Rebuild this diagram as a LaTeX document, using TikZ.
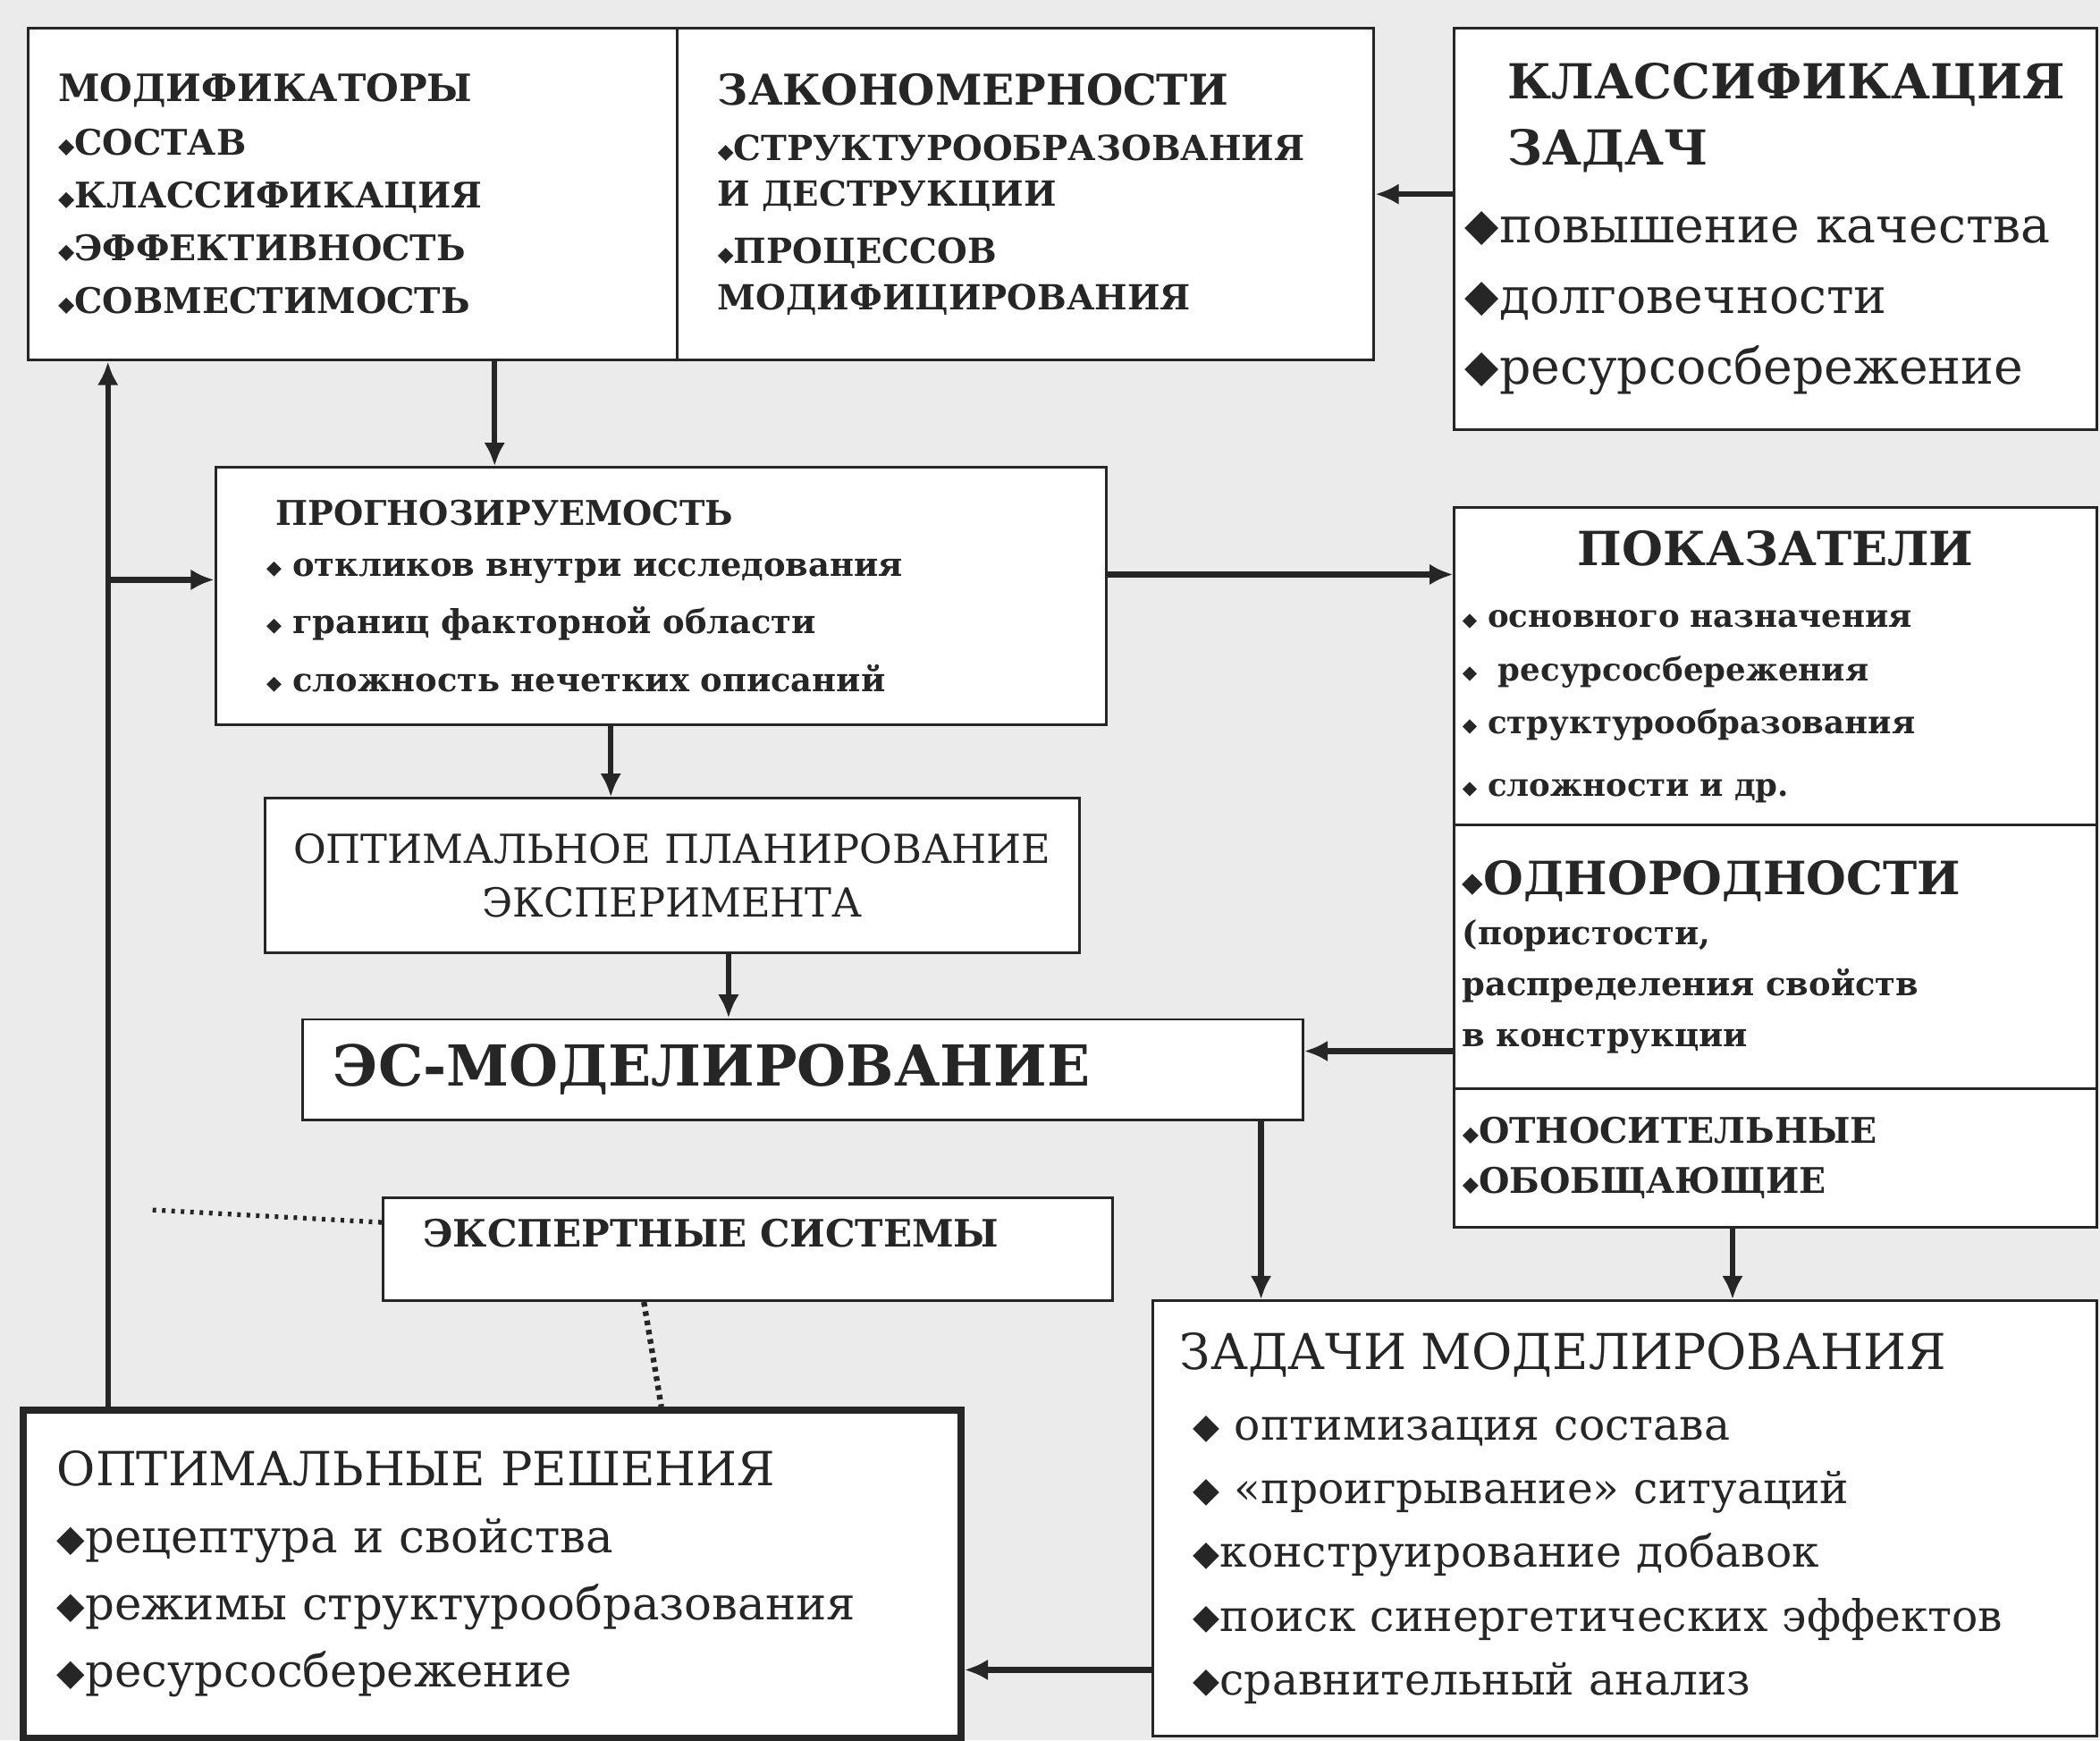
\documentclass[tikz,border=0pt]{standalone}
\usepackage{fontspec}
\setmainfont{DejaVu Serif}
\newfontfamily\symfont{DejaVu Sans}
\usetikzlibrary{calc}
\usetikzlibrary{arrows.meta}
\usetikzlibrary{positioning}
\definecolor{ink}{gray}{0.15}
\definecolor{paper}{gray}{0.92}
\newcommand{\dia}[1][0.6]{\raisebox{0.1ex}{\scalebox{#1}{\symfont ◆}}}
\newcommand{\fs}[2]{\fontsize{#1}{#2}\selectfont}
\tikzset{
  box/.style={draw=ink, line width=1.1pt, fill=white, anchor=north west, align=left, inner ysep=0pt, text=ink},
  flow/.style={draw=ink, line width=2.4pt, -{Latex[length=10pt,width=9pt]}},
  dots/.style={draw=ink, line width=2pt, dash pattern=on 1.5pt off 2.5pt},
  hatch/.style={draw=ink, line width=2.4pt, dash pattern=on 2pt off 2pt},
}
\begin{document}
\begin{tikzpicture}[x=0.02cm, y=-0.02cm]
% fond
\fill[paper] (0,0) rectangle (1568,1299);
\useasboundingbox (0,0) rectangle (1568,1299);
% blocs du haut
\node[box, minimum width=9.7cm, minimum height=4.96cm, inner xsep=0.45cm, text width=8.8cm,
  font=\bfseries\fs{15}{22.5}] (modif) at (20,20)
  {{\fs{16}{22.5}МОДИФИКАТОРЫ}\\ \dia СОСТАВ\\ \dia КЛАССИФИКАЦИЯ\\ \dia ЭФФЕКТИВНОСТЬ\\ \dia СОВМЕСТИМОСТЬ};
\node[box, minimum width=10.4cm, minimum height=4.96cm, inner xsep=0.6cm, text width=9.2cm,
  font=\bfseries\fs{14.7}{19.5}] (zakon) at (505,20)
  {{\fs{18}{22}ЗАКОНОМЕРНОСТИ}\\[4pt] \dia СТРУКТУРООБРАЗОВАНИЯ\\ И ДЕСТРУКЦИИ\\[5pt] \dia ПРОЦЕССОВ\\ МОДИФИЦИРОВАНИЯ};
\node[box, minimum width=9.6cm, minimum height=6cm, inner xsep=0.16cm, text width=9.28cm,
  font=\fs{21}{30}] (klass) at (1085,20)
  {\hspace*{0.64cm}{\bfseries\fs{20.5}{26}КЛАССИФИКАЦИЯ}\\[-2pt] \hspace*{0.64cm}{\bfseries\fs{20.5}{26}ЗАДАЧ}\\[3pt]
   \dia[0.9]повышение качества\\ \dia[0.9]долговечности\\ \dia[0.9]ресурсосбережение};
% prognoz
\node[box, minimum width=13.3cm, minimum height=3.84cm, inner xsep=0.76cm, text width=11.78cm,
  font=\bfseries\fs{14}{24.5}] (prog) at (160,348)
  {\hspace*{0.14cm}{\fs{14.5}{20}ПРОГНОЗИРУЕМОСТЬ}\\[-3pt] \dia\ откликов внутри исследования\\ \dia\ границ факторной области\\ \dia\ сложность нечетких описаний};
\node[box, minimum width=12.16cm, minimum height=2.3cm, align=center, inner xsep=0.05cm, text width=12cm,
  font=\fs{17}{22.8}] (plan) at (197,595)
  {ОПТИМАЛЬНОЕ ПЛАНИРОВАНИЕ\\ ЭКСПЕРИМЕНТА};
\node[box, minimum width=14.94cm, minimum height=1.5cm, inner xsep=0.46cm, text width=14.02cm,
  font=\bfseries\fs{24}{28}] (esmod) at (225,760) {ЭС-МОДЕЛИРОВАНИЕ};
\node[box, minimum width=10.9cm, minimum height=1.54cm, inner xsep=0.6cm, text width=9.7cm,
  font=\bfseries\fs{16}{20}] (expert) at (285,893) {ЭКСПЕРТНЫЕ СИСТЕМЫ\\[-6pt] \mbox{}};
% colonne droite
\node[box, minimum width=9.6cm, minimum height=4.74cm, inner xsep=0.12cm, text width=9.36cm,
  font=\bfseries\fs{13.5}{22.5}] (pokaz) at (1085,378)
  {\makebox[9.36cm]{\fs{20}{24}ПОКАЗАТЕЛИ}\\[4pt] \dia\ основного назначения\\ \dia\ \ ресурсосбережения\\
   \dia\ структурообразования\\[4pt] \dia\ сложности и др.};
\node[box, minimum width=9.6cm, minimum height=3.94cm, inner xsep=0.12cm, text width=9.36cm,
  font=\bfseries\fs{14}{21.5}] (odnor) at (1085,615)
  {{\fs{19.5}{24}\dia ОДНОРОДНОСТИ}\\ (пористости,\\ распределения свойств\\ в конструкции};
\node[box, minimum width=9.6cm, minimum height=2.06cm, inner xsep=0.12cm, text width=9.36cm,
  font=\bfseries\fs{15}{21}] (otnos) at (1085,812)
  {\dia ОТНОСИТЕЛЬНЫЕ\\ \dia ОБОБЩАЮЩИЕ};
% blocs du bas
\node[box, minimum width=14.1cm, minimum height=6.5cm, inner xsep=0.4cm, text width=13.3cm,
  font=\fs{18.5}{27}] (zadachi) at (860,970)
  {{\fs{21}{27}ЗАДАЧИ МОДЕЛИРОВАНИЯ}\\[3pt] \hspace*{0.2cm}\dia[0.8]\ оптимизация состава\\
   \hspace*{0.2cm}\dia[0.8]\ «проигрывание» ситуаций\\ \hspace*{0.2cm}\dia[0.8]конструирование добавок\\
   \hspace*{0.2cm}\dia[0.8]поиск синергетических эффектов\\ \hspace*{0.2cm}\dia[0.8]сравнительный анализ};
\node[box, line width=3pt, minimum width=14cm, minimum height=4.9cm, inner xsep=0.5cm, text width=13cm,
  font=\fs{19.5}{28.5}] (optres) at (15,1050)
  {{\fs{20}{27}ОПТИМАЛЬНЫЕ РЕШЕНИЯ}\\ \dia[0.8]рецептура и свойства\\ \dia[0.8]режимы структурообразования\\ \dia[0.8]ресурсосбережение};
% points d'attache
\coordinate (m1) at ($(modif.south west)!0.7175!(modif.south east)$);
\coordinate (p1) at ($(prog.north east)!0.417!(prog.south east)$);
\coordinate (p2) at ($(prog.north west)!0.4375!(prog.south west)$);
\coordinate (p3) at ($(prog.south west)!0.444!(prog.south east)$);
\coordinate (q1) at ($(plan.south west)!0.569!(plan.south east)$);
\coordinate (o1) at ($(odnor.north west)!0.853!(odnor.south west)$);
\coordinate (e1) at ($(esmod.south west)!0.957!(esmod.south east)$);
\coordinate (t1) at ($(otnos.south west)!0.433!(otnos.south east)$);
\coordinate (z1) at ($(zadachi.north west)!0.846!(zadachi.south west)$);
\coordinate (r1) at ($(optres.north west)!0.093!(optres.north east)$);
\coordinate (r2) at ($(optres.north west)!0.679!(optres.north east)$);
\coordinate (x1) at ($(expert.south west)!0.358!(expert.south east)$);
\coordinate (x2) at ($(expert.north west)!0.247!(expert.south west)$);
\coordinate (d1) at (110,903);
% fleches
\draw[flow] (m1) -- (m1 |- prog.north);
\draw[flow] (zakon.east -| klass.west) -- (zakon.east);
\draw[flow] (p1) -- (p1 -| pokaz.west);
\draw[flow] (r1) -- (r1 |- modif.south);
\draw[flow] (r1 |- p2) -- (p2);
\draw[flow] (p3) -- (p3 |- plan.north);
\draw[flow] (q1) -- (q1 |- esmod.north);
\draw[flow] (o1) -- (o1 -| esmod.east);
\draw[flow] (e1) -- (e1 |- zadachi.north);
\draw[flow] (t1) -- (t1 |- zadachi.north);
\draw[flow] (z1) -- (z1 -| optres.east);
% liens pointilles
\draw[dots] (x2) -- (d1);
\draw[hatch] (x1) -- (r2);
\end{tikzpicture}
\end{document}
